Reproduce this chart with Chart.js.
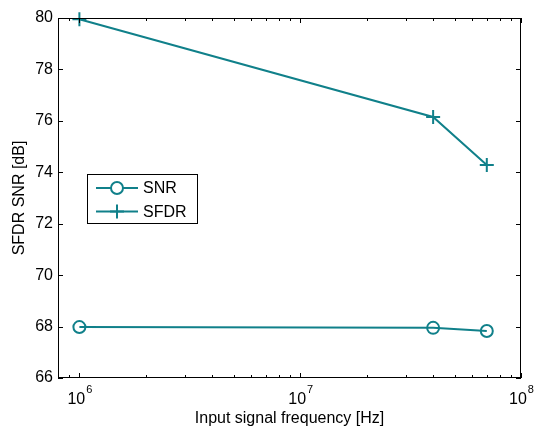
<!DOCTYPE html>
<html>
<head>
<meta charset="utf-8">
<script src="https://cdn.jsdelivr.net/npm/chart.js@4/dist/chart.umd.min.js"></script>
<style>
  html, body { margin: 0; padding: 0; background: #fff; }
  #wrap { width: 534px; height: 428px; }
</style>
</head>
<body>
<div id="wrap"><canvas id="chart" width="534" height="428"></canvas></div>
<script>
// values
const freqs = [1e6, 4e7, 7e7];
const snr = [67.98, 67.95, 67.83];
const sfdr = [79.95, 76.15, 74.28];
const yTicks = [66, 68, 70, 72, 74, 76, 78, 80];
const xMajor = [1e6, 1e7, 1e8];
const xMinor = [9e5, 2e6, 3e6, 4e6, 5e6, 6e6, 7e6, 8e6, 9e6,
                2e7, 3e7, 4e7, 5e7, 6e7, 7e7, 8e7, 9e7];
const xTitle = 'Input signal frequency [Hz]';
const yTitle = 'SFDR SNR [dB]';

const TEAL = '#10808a';
const FONT = '"Liberation Sans", Arial, sans-serif';

// ticks inside the box, frame, superscript x labels, titles, legend
const matlabAxes = {
    id: 'matlabAxes',
    afterDraw(chart) {
        const ctx = chart.ctx;
        const a = chart.chartArea;
        const xs = chart.scales.x;
        const ys = chart.scales.y;
        ctx.save();
        ctx.strokeStyle = '#000';
        ctx.lineWidth = 1;

        // frame
        ctx.strokeRect(a.left + 0.5, a.top + 0.5, a.right - a.left - 1, a.bottom - a.top - 1);

        // y ticks, both sides
        ctx.beginPath();
        yTicks.forEach(v => {
            const y = Math.round(ys.getPixelForValue(v)) + 0.5;
            ctx.moveTo(a.left, y); ctx.lineTo(a.left + 5, y);
            ctx.moveTo(a.right, y); ctx.lineTo(a.right - 5, y);
        });
        // x ticks top and bottom
        xMajor.forEach(v => {
            const x = Math.round(xs.getPixelForValue(v)) + 0.5;
            ctx.moveTo(x, a.bottom); ctx.lineTo(x, a.bottom - 5);
            ctx.moveTo(x, a.top); ctx.lineTo(x, a.top + 5);
        });
        xMinor.forEach(v => {
            const x = Math.round(xs.getPixelForValue(v)) + 0.5;
            ctx.moveTo(x, a.bottom); ctx.lineTo(x, a.bottom - 3);
            ctx.moveTo(x, a.top); ctx.lineTo(x, a.top + 3);
        });
        ctx.stroke();

        // x labels 10^n
        ctx.fillStyle = '#000';
        ctx.textBaseline = 'alphabetic';
        ctx.textAlign = 'left';
        xMajor.forEach(v => {
            const x = xs.getPixelForValue(v);
            const exp = String(Math.round(Math.log10(v)));
            ctx.font = '16px ' + FONT;
            const wBase = ctx.measureText('10').width;
            ctx.font = '11px ' + FONT;
            const wExp = ctx.measureText(exp).width;
            const x0 = x - (wBase + wExp) / 2;
            ctx.font = '16px ' + FONT;
            ctx.fillText('10', x0, 404);
            ctx.font = '11px ' + FONT;
            ctx.fillText(exp, x0 + wBase + 1, 393);
        });

        // axis titles
        ctx.font = '16px ' + FONT;
        ctx.textAlign = 'center';
        ctx.fillText(xTitle, (a.left + a.right) / 2, 423);
        ctx.save();
        ctx.translate(20, (a.top + a.bottom) / 2);
        ctx.rotate(-Math.PI / 2);
        ctx.textBaseline = 'middle';
        ctx.fillText(yTitle, 0, 0);
        ctx.restore();

        // legend box
        const bx = 87, by = 174, bw = 110, bh = 49;
        ctx.fillStyle = '#fff';
        ctx.fillRect(bx, by, bw, bh);
        ctx.strokeStyle = '#000';
        ctx.strokeRect(bx + 0.5, by + 0.5, bw, bh);
        const rows = [188, 211.5];
        chart.data.datasets.forEach((ds, i) => {
            const y = rows[i];
            ctx.strokeStyle = TEAL;
            ctx.lineWidth = 2;
            ctx.beginPath();
            ctx.moveTo(96, y); ctx.lineTo(138, y);
            ctx.stroke();
            ctx.beginPath();
            if (ds.pointStyle === 'circle') {
                ctx.fillStyle = '#fff';
                ctx.arc(117, y, 6, 0, Math.PI * 2);
                ctx.fill();
                ctx.stroke();
            } else {
                ctx.moveTo(117 - 7, y); ctx.lineTo(117 + 7, y);
                ctx.moveTo(117, y - 7); ctx.lineTo(117, y + 7);
                ctx.stroke();
            }
            ctx.fillStyle = '#000';
            ctx.font = '16px ' + FONT;
            ctx.textAlign = 'left';
            ctx.textBaseline = 'middle';
            ctx.fillText(ds.label, 143, y + 1);
        });
        ctx.restore();
    }
};

const ctx = document.getElementById('chart').getContext('2d');
new Chart(ctx, {
    type: 'line',
    data: {
        datasets: [
            {
                label: 'SNR',
                data: freqs.map((f, i) => ({ x: f, y: snr[i] })),
                borderColor: TEAL,
                borderWidth: 2,
                pointStyle: 'circle',
                pointRadius: 6,
                pointBorderWidth: 2,
                pointBorderColor: TEAL,
                pointBackgroundColor: 'rgba(255,255,255,0)',
                tension: 0,
                clip: false
            },
            {
                label: 'SFDR',
                data: freqs.map((f, i) => ({ x: f, y: sfdr[i] })),
                borderColor: TEAL,
                borderWidth: 2,
                pointStyle: 'cross',
                pointRadius: 7,
                pointBorderWidth: 2,
                pointBorderColor: TEAL,
                tension: 0,
                clip: false
            }
        ]
    },
    options: {
        responsive: false,
        animation: false,
        layout: { padding: { top: 18, right: 13, left: 0, bottom: 0 } },
        plugins: {
            legend: { display: false },
            tooltip: { enabled: false }
        },
        scales: {
            x: {
                type: 'logarithmic',
                min: 8e5,
                max: 1e8,
                grid: { display: false },
                border: { display: false },
                ticks: { display: false },
                afterFit: s => { s.height = 50; }
            },
            y: {
                min: 66,
                max: 80,
                grid: { display: false, drawTicks: false },
                border: { display: false },
                afterBuildTicks: s => { s.ticks = yTicks.map(v => ({ value: v })); },
                ticks: {
                    padding: 5,
                    color: '#000',
                    font: { family: FONT, size: 16 }
                },
                afterFit: s => { s.width = 58; }
            }
        }
    },
    plugins: [matlabAxes]
});
</script>
</body>
</html>
